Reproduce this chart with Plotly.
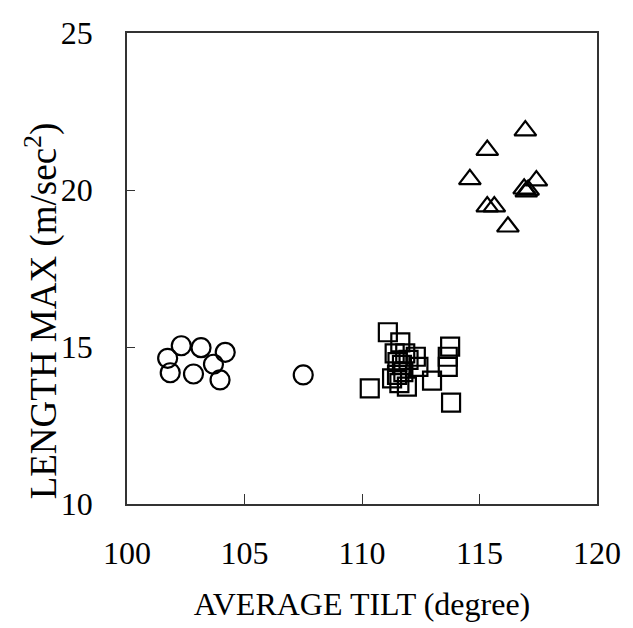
import plotly.graph_objects as go

# Circles
circle_x = [101.73, 101.84, 102.31, 102.83, 103.15, 103.68, 103.96, 104.18, 107.50]
circle_y = [14.64, 14.18, 15.04, 14.14, 14.98, 14.45, 13.95, 14.83, 14.11]

# Squares
square_x = [111.10, 111.63, 110.33, 113.79, 113.75, 113.65, 113.65, 112.98, 111.91, 111.39,
            111.84, 112.29, 112.40, 111.28, 111.49, 111.70, 111.98, 111.51, 111.76, 111.59]
square_y = [15.47, 15.15, 13.68, 13.23, 15.01, 14.69, 14.37, 13.93, 13.74, 14.80,
            14.80, 14.69, 14.37, 14.00, 14.11, 14.43, 14.59, 14.52, 14.20, 13.85]

# Triangles
tri_x = [116.95, 115.33, 114.59, 117.42, 116.90, 117.07, 116.99, 115.33, 115.63, 116.21]
tri_y = [21.89, 21.27, 20.34, 20.30, 20.04, 20.00, 19.95, 19.47, 19.47, 18.83]

x_ticks = [100, 105, 110, 115, 120]
y_ticks = [10, 15, 20, 25]

FONT = "Liberation Serif, Times New Roman, serif"
AX = "#333333"

fig = go.Figure()
fig.add_trace(go.Scatter(x=circle_x, y=circle_y, mode="markers",
                         marker=dict(symbol="circle-open", size=19, color="black", line=dict(width=2.2))))
fig.add_trace(go.Scatter(x=square_x, y=square_y, mode="markers",
                         marker=dict(symbol="square-open", size=18, color="black", line=dict(width=2.2))))
fig.add_trace(go.Scatter(x=tri_x, y=tri_y, mode="markers",
                         marker=dict(symbol="triangle-up-open", size=19, color="black", line=dict(width=2.2))))

fig.update_layout(
    width=633, height=628,
    margin=dict(l=127, r=27, t=33, b=124),
    paper_bgcolor="white", plot_bgcolor="white",
    showlegend=False,
    font=dict(family=FONT, size=32, color="black"),
    annotations=[dict(
        text="LENGTH MAX (m/sec<sup>2</sup>)", textangle=-90,
        xref="paper", yref="paper", x=-0.182, y=0.41,
        xanchor="center", yanchor="middle", showarrow=False,
        font=dict(family=FONT, size=37, color="black"),
    )],
)
fig.update_xaxes(
    range=[100, 120], tickvals=x_ticks, ticktext=[str(v) for v in x_ticks],
    tickfont=dict(family=FONT, size=32),
    showgrid=False, zeroline=False,
    showline=True, linecolor=AX, linewidth=1.5, mirror=True,
    ticks="inside", ticklen=10, tickcolor=AX, tickwidth=1.2,
    ticklabelstandoff=20,
    title=dict(text="AVERAGE TILT (degree)", font=dict(family=FONT, size=32), standoff=22),
)
fig.update_yaxes(
    range=[10, 25], tickvals=y_ticks, ticktext=[str(v) for v in y_ticks],
    tickfont=dict(family=FONT, size=32),
    showgrid=False, zeroline=False,
    showline=True, linecolor=AX, linewidth=1.5, mirror=True,
    ticks="inside", ticklen=8, tickcolor=AX, tickwidth=1.2,
    ticklabelstandoff=26,
)

fig.write_html("out.html")
